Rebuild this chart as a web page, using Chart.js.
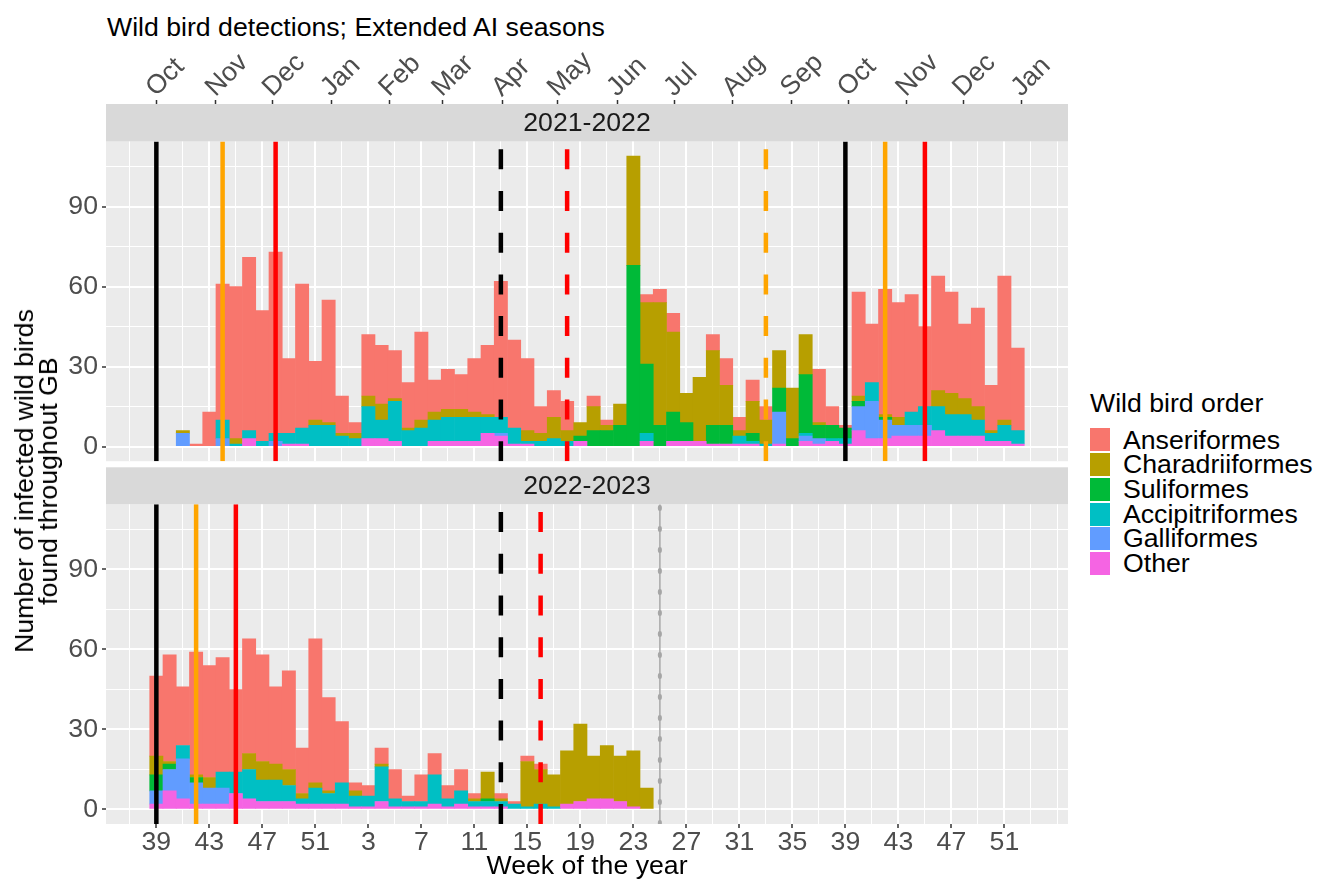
<!DOCTYPE html>
<html>
<head>
<meta charset="utf-8">
<script src="https://cdn.jsdelivr.net/npm/chart.js@4.4.1/dist/chart.umd.min.js"></script>
<style>
  body { margin: 0; background: #fff; font-family: "Liberation Sans", Arial, sans-serif; }
  #page { position: relative; width: 1318px; height: 882px; overflow: hidden; background: #fff; }
  .abs { position: absolute; }
  #title { left: 107px; top: 14px; font-size: 26.67px; line-height: 26px; color: #000; white-space: nowrap; }
  #ytitle { left: 36px; top: 481px; transform: translate(-50%, -50%) rotate(-90deg); font-size: 26.67px; line-height: 24px;
            text-align: center; white-space: nowrap; color: #000; }
  #legend { left: 1090px; top: 390px; font-size: 26.67px; color: #000; }
  #legend .ltitle { line-height: 26px; height: 26px; margin-bottom: 11.6px; white-space: nowrap; }
  #legend .lrow { height: 24.7px; line-height: 24.7px; display: flex; align-items: center; white-space: nowrap; }
  #legend .key { display: inline-block; width: 20px; height: 23px; margin-right: 13px; }
</style>
</head>
<body>
<div id="page">
  <div id="title" class="abs">Wild bird detections; Extended AI seasons</div>
  <canvas id="top" class="abs" width="1080" height="463" style="left:0;top:0;"></canvas>
  <canvas id="bottom" class="abs" width="1080" height="416" style="left:0;top:466px;"></canvas>
  <div id="ytitle" class="abs">Number of infected wild birds<br>found throughout GB</div>
  <div id="legend" class="abs"></div>
</div>
<script>
// week of the year for each column (Oct of the first year -> end of the next year)
const weekLabels = [39, 40, 41, 42, 43, 44, 45, 46, 47, 48, 49, 50, 51, 52,
  1, 2, 3, 4, 5, 6, 7, 8, 9, 10, 11, 12, 13, 14, 15, 16, 17, 18, 19, 20, 21, 22, 23, 24, 25, 26,
  27, 28, 29, 30, 31, 32, 33, 34, 35, 36, 37, 38, 39, 40, 41, 42, 43, 44, 45, 46, 47, 48, 49, 50, 51, 52];

// month labels on the top axis (position in weeks from week 39)
const monthNames = ['Oct', 'Nov', 'Dec', 'Jan', 'Feb', 'Mar', 'Apr', 'May', 'Jun', 'Jul', 'Aug', 'Sep', 'Oct', 'Nov', 'Dec', 'Jan'];
const monthTicks = [0, 4.5, 8.8, 13.2, 17.6, 21.6, 26.1, 30.3, 34.8, 39.1, 43.5, 47.9, 52.2, 56.6, 60.9, 65.3];

const orderNames = ['Anseriformes', 'Charadriiformes', 'Suliformes', 'Accipitriformes', 'Galliformes', 'Other'];
const orderColors = ['#F8766D', '#B79F00', '#00BA38', '#00BFC4', '#619CFF', '#F564E3'];

// 2021-2022 season
const anser2122 = [0, 0, 0, 1, 13, 51, 57, 65, 49, 68, 28, 54, 22, 46, 14, 4, 23, 22, 18, 17,
  33, 12, 15, 13, 20, 26, 51, 33, 27, 10, 10, 11, 0, 4, 2, 0, 0, 3, 5, 7,
  0, 0, 6, 10, 5, 8, 5, 0, 0, 0, 20, 7, 1, 39, 22, 47, 43, 44, 30, 43, 38, 28, 37, 17, 54, 31];
const charad2122 = [0, 0, 1, 0, 0, 0, 2, 0, 0, 0, 0, 0, 2, 1, 1, 2, 4, 6, 1, 1,
  3, 3, 3, 3, 2, 1, 0, 0, 4, 3, 8, 4, 5, 9, 2, 8, 41, 23, 46, 30,
  11, 24, 28, 15, 2, 12, 9, 14, 19, 15, 1, 0, 0, 2, 0, 1, 3, 0, 0, 6, 8, 6, 5, 1, 2, 0];
const suli2122 = [0, 0, 0, 0, 0, 0, 0, 0, 0, 0, 0, 0, 0, 0, 0, 0, 0, 0, 0, 0,
  0, 0, 0, 0, 0, 0, 0, 0, 0, 0, 0, 0, 2, 6, 6, 8, 68, 26, 8, 11,
  7, 0, 7, 7, 0, 3, 0, 9, 3, 22, 5, 5, 4, 2, 0, 1, 0, 0, 0, 0, 0, 0, 0, 0, 0, 0];
const accip2122 = [0, 0, 0, 0, 0, 7, 1, 3, 2, 3, 4, 6, 8, 8, 4, 3, 12, 7, 15, 6,
  7, 8, 9, 9, 9, 6, 6, 6, 1, 2, 3, 2, 0, 0, 0, 0, 0, 3, 0, 0,
  0, 0, 0, 0, 3, 1, 1, 0, 0, 1, 0, 1, 2, 0, 7, 0, 0, 5, 7, 9, 8, 8, 6, 3, 6, 5];
const galli2122 = [0, 0, 5, 0, 0, 3, 0, 0, 0, 2, 0, 0, 0, 0, 0, 0, 0, 0, 0, 0,
  0, 0, 0, 0, 0, 0, 1, 0, 0, 0, 0, 0, 0, 0, 0, 0, 0, 0, 0, 0,
  0, 0, 0, 0, 0, 0, 0, 12, 0, 2, 2, 0, 0, 9, 14, 7, 4, 4, 4, 0, 0, 0, 0, 0, 0, 0];
const other2122 = [0, 0, 0, 0, 0, 0, 0, 3, 0, 0, 1, 1, 0, 0, 0, 0, 3, 3, 2, 0,
  0, 2, 2, 2, 2, 5, 4, 1, 1, 0, 0, 0, 2, 0, 0, 0, 0, 2, 0, 2,
  2, 2, 1, 1, 1, 1, 0, 1, 0, 2, 1, 2, 1, 6, 3, 3, 4, 4, 4, 6, 4, 4, 4, 2, 2, 1];

// 2022-2023 season (data up to week 24)
const anser2223 = [30, 40, 22, 46, 42, 43, 31, 43, 40, 29, 37, 17, 54, 35, 23, 3, 4, 6, 11, 2,
  10, 8, 5, 8, 2, 0, 2, 1, 2, 2, 0, 0, 0, 0, 0, 0, 0, 0];
const charad2223 = [7, 1, 0, 1, 4, 0, 0, 6, 7, 6, 6, 2, 2, 1, 0, 2, 0, 1, 0, 0,
  0, 0, 0, 0, 1, 10, 1, 0, 17, 13, 12, 20, 29, 16, 20, 17, 21, 8];
const suli2223 = [6, 2, 0, 2, 0, 0, 0, 0, 0, 0, 0, 0, 0, 0, 0, 0, 0, 0, 0, 0,
  0, 0, 0, 0, 0, 1, 0, 0, 0, 0, 0, 0, 0, 0, 0, 0, 0, 0];
const accip2223 = [0, 0, 5, 0, 0, 6, 8, 11, 8, 8, 6, 2, 6, 4, 8, 4, 4, 13, 3, 2,
  2, 11, 3, 5, 2, 2, 2, 2, 1, 2, 1, 0, 0, 0, 0, 0, 0, 0];
const galli2223 = [5, 8, 15, 8, 6, 6, 0, 0, 0, 0, 0, 0, 0, 0, 0, 0, 0, 0, 0, 0,
  0, 0, 0, 0, 0, 0, 0, 0, 0, 0, 0, 0, 0, 0, 0, 0, 0, 0];
const other2223 = [2, 7, 4, 2, 2, 2, 6, 4, 3, 3, 3, 2, 2, 2, 2, 1, 1, 3, 1, 1,
  1, 2, 1, 2, 1, 1, 1, 0, 0, 0, 0, 2, 3, 4, 4, 3, 1, 0];

// season markers (weeks from week 39)
const markers2122 = [0, 5, 9, 26, 31, 46, 52, 55, 58];
const markers2223 = [0, 3, 6, 26, 29];
const lastWeek2223 = [38];

// marker styles
const markerStyle2122 = [['#000000', false], ['#FFA500', false], ['#FF0000', false], ['#000000', true],
  ['#FF0000', true], ['#FFA500', true], ['#000000', false], ['#FFA500', false], ['#FF0000', false]];
const markerStyle2223 = [['#000000', false], ['#FFA500', false], ['#FF0000', false], ['#000000', true], ['#FF0000', true]];

const FONT = '"Liberation Sans", Arial, sans-serif';
const FSIZE = 26.67;
const X_MIN = -3.8, X_MAX = 68.8;
const Y_MIN = -5.45, Y_MAX = 114.45;

// grid every 2 weeks, labels every 4
const xGrid = [];
for (let v = -2; v <= 68; v += 2) xGrid.push(v);
const yGrid = [0, 15, 30, 45, 60, 75, 90, 105];

function isMajorX(v) { return v >= 0 && v <= 64 && v % 4 === 0; }

//panel background and facet strip
const panelPlugin = {
  id: 'panel',
  beforeDraw(chart, args, opts) {
    const {ctx, chartArea: a} = chart;
    const s = chart.scales.strip;
    ctx.save();
    ctx.fillStyle = '#EBEBEB';
    ctx.fillRect(a.left, a.top, a.right - a.left, a.bottom - a.top);
    ctx.fillStyle = '#D9D9D9';
    ctx.fillRect(s.left, s.top, s.right - s.left, s.bottom - s.top);
    ctx.fillStyle = '#1A1A1A';
    ctx.font = FSIZE + 'px ' + FONT;
    ctx.textAlign = 'center';
    ctx.textBaseline = 'middle';
    ctx.fillText(opts.label, (s.left + s.right) / 2, (s.top + s.bottom) / 2 + 1);
    ctx.restore();
  }
};

function barSets(series) {
  // ggplot stacks the first level on top, Chart.js the first dataset at the bottom
  return series.map((vals, k) => ({
    type: 'bar',
    label: orderNames[k],
    data: vals.map((v, i) => ({x: i, y: v === 0 ? null : v})),
    backgroundColor: orderColors[k],
    borderWidth: 0,
    barPercentage: 1,
    categoryPercentage: 1,
    xAxisID: 'x',
    yAxisID: 'y'
  })).reverse();
}

function markerSets(weeks, styles) {
  return weeks.map((w, k) => ({
    type: 'line',
    data: [{x: w, y: Y_MIN}, {x: w, y: Y_MAX}],
    borderColor: styles[k][0],
    borderWidth: 4.5,
    borderDash: styles[k][1] ? [20, 21.7] : [],
    pointRadius: 0,
    xAxisID: 'x',
    yAxisID: 'yv',
    order: -1
  }));
}

function lastWeekSets(weeks) {
  const out = [];
  weeks.forEach(w => {
    out.push({type: 'line', data: [{x: w, y: Y_MIN}, {x: w, y: Y_MAX}], borderColor: '#A6A6A6',
      borderWidth: 1.5, pointRadius: 0, xAxisID: 'x', yAxisID: 'yv', order: -1});
    out.push({type: 'line', data: [{x: w, y: Y_MIN}, {x: w, y: Y_MAX}], borderColor: '#A6A6A6',
      borderWidth: 4, borderDash: [2, 19], borderCapStyle: 'round', pointRadius: 0, xAxisID: 'x', yAxisID: 'yv', order: -1});
  });
  return out;
}

const tickFont = {family: FONT, size: FSIZE, lineHeight: 1};

function yScale() {
  return {
    type: 'linear', position: 'left', min: Y_MIN, max: Y_MAX, stacked: true,
    afterBuildTicks: s => { s.ticks = yGrid.map(v => ({value: v})); },
    ticks: {callback: v => v % 30 === 0 ? String(v) : '', color: '#4D4D4D', font: tickFont, padding: 4},
    grid: {
      color: '#FFFFFF',
      lineWidth: c => (c.tick && c.tick.value % 30 === 0) ? 2 : 1,
      tickLength: 4, tickWidth: 1.5,
      tickColor: c => (c.tick && c.tick.value % 30 === 0) ? '#333333' : 'rgba(0,0,0,0)'
    },
    border: {display: false},
    afterFit: s => { s.width = 106; s.paddingTop = 0; s.paddingBottom = 0; }
  };
}

function xGridOpts(withTicks) {
  return {
    color: '#FFFFFF', offset: false,
    lineWidth: c => (c.tick && isMajorX(c.tick.value)) ? 2 : 1,
    drawTicks: withTicks, tickLength: 4, tickWidth: 1.5,
    tickColor: c => (c.tick && isMajorX(c.tick.value)) ? '#333333' : 'rgba(0,0,0,0)'
  };
}

function stripScale(h) {
  return {
    type: 'linear', position: 'top', weight: 0, offset: false,
    ticks: {display: false}, grid: {display: false}, border: {display: false},
    afterFit: s => { s.height = h; s.paddingLeft = 0; s.paddingRight = 0; }
  };
}

//上段 2021-2022
new Chart(document.getElementById('top'), {
  type: 'bar',
  data: {
    datasets: markerSets(markers2122, markerStyle2122)
      .concat(barSets([anser2122, charad2122, suli2122, accip2122, galli2122, other2122]))
  },
  options: {
    responsive: false, animation: false, devicePixelRatio: 1, events: [],
    layout: {padding: {top: 0, left: 0, right: 12, bottom: 1.8}},
    plugins: {legend: {display: false}, tooltip: {enabled: false}, panel: {label: '2021-2022'}},
    scales: {
      x: {
        type: 'linear', position: 'bottom', min: X_MIN, max: X_MAX, offset: false, stacked: true,
        afterBuildTicks: s => { s.ticks = xGrid.map(v => ({value: v})); },
        ticks: {display: false}, grid: xGridOpts(false), border: {display: false},
        afterFit: s => { s.height = 0; s.paddingLeft = 0; s.paddingRight = 0; }
      },
      xTop: {
        type: 'linear', position: 'top', weight: 10, min: X_MIN, max: X_MAX, offset: false,
        afterBuildTicks: s => { s.ticks = monthTicks.map(v => ({value: v})); },
        ticks: {autoSkip: false, minRotation: 45, maxRotation: 45, callback: (v, i) => monthNames[i],
          color: '#4D4D4D', font: {family: FONT, size: FSIZE, lineHeight: 0.3}, padding: 5},
        grid: {drawOnChartArea: false, offset: false, tickLength: 4, tickWidth: 1.5, tickColor: '#333333'},
        border: {display: false},
        afterFit: s => { s.height = 104; s.paddingLeft = 0; s.paddingRight = 0; }
      },
      strip: stripScale(37.5),
      y: yScale(),
      yv: {type: 'linear', display: false, min: Y_MIN, max: Y_MAX, stacked: false}
    }
  },
  plugins: [panelPlugin]
});

//下段 2022-2023
new Chart(document.getElementById('bottom'), {
  type: 'bar',
  data: {
    datasets: markerSets(markers2223, markerStyle2223)
      .concat(lastWeekSets(lastWeek2223))
      .concat(barSets([anser2223, charad2223, suli2223, accip2223, galli2223, other2223]))
  },
  options: {
    responsive: false, animation: false, devicePixelRatio: 1, events: [],
    layout: {padding: {top: 1.3, left: 0, right: 12, bottom: 0}},
    plugins: {legend: {display: false}, tooltip: {enabled: false}, panel: {label: '2022-2023'}},
    scales: {
      x: {
        type: 'linear', position: 'bottom', min: X_MIN, max: X_MAX, offset: false, stacked: true,
        afterBuildTicks: s => { s.ticks = xGrid.map(v => ({value: v})); },
        ticks: {autoSkip: false, minRotation: 0, maxRotation: 0,
          callback: v => isMajorX(v) ? String(weekLabels[v]) : '',
          color: '#4D4D4D', font: tickFont, padding: 1},
        grid: xGridOpts(true),
        border: {display: false},
        title: {display: true, text: 'Week of the year', color: '#000000',
          font: {family: FONT, size: FSIZE, lineHeight: 1}, padding: {top: 0, bottom: 2}},
        afterFit: s => { s.height = 58; s.paddingLeft = 0; s.paddingRight = 0; }
      },
      strip: stripScale(37),
      y: yScale(),
      yv: {type: 'linear', display: false, min: Y_MIN, max: Y_MAX, stacked: false}
    }
  },
  plugins: [panelPlugin]
});

//凡例
document.getElementById('legend').innerHTML =
  '<div class="ltitle">Wild bird order</div>' +
  orderNames.map((n, k) => `<div class="lrow"><span class="key" style="background:${orderColors[k]}"></span>${n}</div>`).join('');
</script>
</body>
</html>
